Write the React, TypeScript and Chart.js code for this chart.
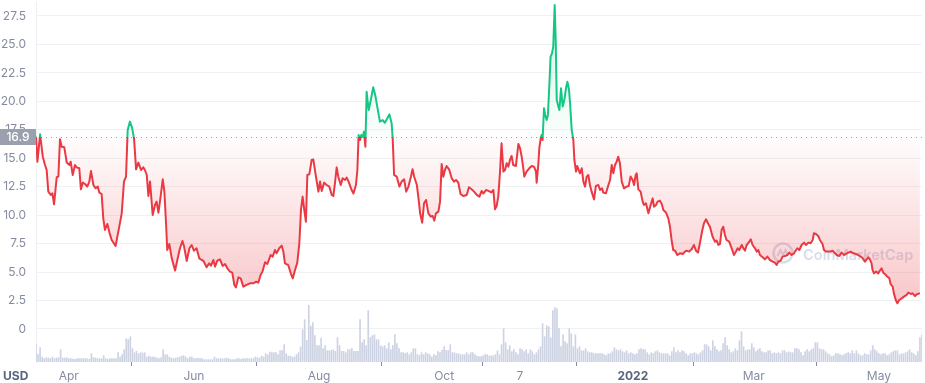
import React, { useEffect, useRef } from 'react';
import { Chart, registerables } from 'chart.js';

Chart.register(...registerables);

// Reference price (first value of the period) – line is green above, red below
const BASELINE = 16.9;

// Days since 2021-03-16
const priceDays = [
  0, 0.7, 2, 3.3, 4.4, 5.2, 6, 7.2, 8, 8.8,
  10.1, 10.9, 11.7, 12.5, 13.8, 15, 16.3, 16.9, 17.9, 19,
  19.8, 21.1, 21.9, 22.8, 23.9, 25, 26, 26.8, 28, 29.1,
  30.1, 30.9, 32, 32.8, 33.6, 34.8, 35.8, 36.9, 38.8, 40.6,
  41.8, 42.9, 43.9, 44.7, 45.8, 46.8, 47.8, 48.8, 49.9, 51.2,
  52.3, 53.1, 54, 54.8, 55.6, 56.9, 58, 58.8, 59.7, 60.8,
  61.8, 62.6, 63.4, 64, 65, 66.2, 67.8, 69.1, 70.2, 71.4,
  72.2, 73.5, 74.8, 75.9, 77, 78.3, 79.6, 80.8, 81.6, 83.2,
  84.4, 85.3, 86.5, 87.3, 88.4, 89.7, 91, 92.2, 93.3, 94.6,
  95.7, 96.7, 97.5, 98.7, 99.8, 101.1, 102.7, 104.3, 106, 107.3,
  108.4, 109.5, 110.4, 111.7, 112.8,
  114.4, 115.4, 116.5, 117.3, 118.6, 119.8, 120.6, 121.4, 123, 124.2,
  125.2, 126.3, 127.4, 128.4, 129.2, 130, 130.8, 131.6, 132.3, 133.3,
  134.4, 135.2, 136.5, 137.7, 138.5, 139.3, 140.5, 141.7, 143, 144.2,
  145, 145.8, 146.6, 147.4, 148.6, 149.5, 150.7, 151.5, 152.6, 153.9,
  154.8, 156, 156.7, 157.3, 158, 158.6, 159.3, 159.9, 160.6, 161.2,
  162.2, 163.1, 164.4, 165.4, 166.4, 167.7, 169, 170.1, 171.3, 172.3,
  173.4, 173.9, 174.6, 175.9, 177.2, 178.3, 179.5, 180.5, 181.6, 182.8,
  183.6, 184.4, 185.7, 186.5, 187.3, 188.3, 189.2, 190.2, 191.3, 192.5,
  193.4, 194.2, 195, 196.2, 197, 197.8, 198.6, 199.4, 200.2, 201.4,
  202.7, 203.8, 204.8, 205.9, 207, 208.3, 210, 211.1, 212.4, 213.6,
  214.9, 216.2, 217.3, 218.1, 219.4, 220.6,
  222, 223, 223.8, 224.6, 225.4, 226.2, 227, 227.9, 228.7, 229.5,
  230.3, 231.1, 231.9, 232.7, 234, 235.2, 236, 236.8, 237.6, 238.1,
  239.2, 240.5, 241.7, 242.8, 243.8, 244.1, 244.9, 245.4, 246.1, 246.5,
  247, 247.7, 248.3, 249, 249.6, 250.3, 250.9, 251.6, 252.2, 252.9,
  253.4, 253.9, 254.7, 255.2, 256, 256.8, 257.6, 258.4, 259.1, 259.9,
  260.4, 261.2, 262, 262.5, 263.3, 263.9, 264.6, 265.2, 266.1, 266.9,
  267.7, 268.5, 269.3, 270.1, 270.9, 272.1, 273, 274.2, 275, 276,
  276.6, 277.9, 279.1, 279.9, 280.7, 281.5, 282.3, 283.1, 283.9, 284.7,
  285.6, 286.7, 288, 289, 289.9, 290.9, 291.6, 292.4, 292.9, 293.7,
  294.8, 295.8, 296.4, 297.4, 298.6, 299.7, 300.7, 301.3, 302.3, 303.1,
  304.2, 305.1, 305.9, 307.2, 308.3, 309.1, 309.9, 310.7, 311.6, 312.7,
  314, 315.3, 316.4, 317.2, 318.5, 319.7, 320.8, 321.8, 322.8, 323.7,
  324.9, 325.7, 326.7, 327.8, 328.6,
  329.9, 331.1, 331.9, 332.7, 333.5, 334.3, 335.1, 335.9, 336.7, 338,
  339.2, 340.3, 341.3, 342.1, 342.9, 344.1, 344.9, 345.7, 346.5, 347.8,
  348.5, 349.4, 350.6, 351.4, 352.2, 353, 354.3, 355.4, 356.6, 357.9,
  359.2, 360.3, 361.1, 361.9, 363.1, 364, 365.2, 366.3, 367.3, 368.4,
  369.6, 370.6, 371.2, 372.2, 373.3, 374.5, 375.4, 376.6, 377.7, 378.7,
  379.3, 380.3, 381.4, 382.2, 383.5, 384.2, 385.2, 386.3, 387.1, 388.4,
  389.6, 390.4, 391.7, 392.8, 394, 394.9, 396.1, 397.2, 398.5, 399.8,
  400.9, 402.1, 403.1, 404.2, 405, 405.8, 406.6, 407.4, 407.9, 408.6,
  409.6, 410.7, 411.5, 412.3, 413.1, 413.9, 415.1, 416.1, 416.7, 417.7,
  418.3, 419.2, 420, 420.9, 422.1, 423.2, 424.5, 425.3, 426.5, 427.4,
  428.6, 429.7, 431,
];

// Price in USD
const prices = [
  16.9, 14.7, 17.1, 15.14, 14.41, 13.97, 12.07, 11.78, 11.92, 10.95,
  13.33, 13.39, 16.67, 16.02, 15.96, 14.62, 14.41, 14.7, 13.53, 14.41,
  14.2, 14.12, 12.27, 12.86, 12.74, 12.51, 12.95, 13.88, 12.65, 12.36,
  12.51, 11.98, 11.86, 9.72, 8.7, 9.23, 8.47, 7.82, 7.29, 8.99,
  10.16, 12.95, 13.39, 17.49, 18.22, 17.72, 16.75, 14.03, 14.62, 13.97,
  14.2, 13.97, 13.53, 11.69, 12.95, 10.02, 10.9, 11.19, 10.22, 11.69,
  13.15, 12.07, 9.29, 6.94, 7.47, 6.21, 5.13, 6.21, 7.09, 7.73,
  7.24, 5.98, 7.09, 7.38, 6.88, 7.09, 6.21, 6.06, 6.0, 5.42,
  5.77, 5.56, 6.06, 5.48, 6.0, 6.12, 5.54, 5.71, 5.33, 5.04,
  4.95, 3.87, 3.66, 4.54, 4.45, 3.72, 3.87, 4.01, 4.01, 4.16,
  4.07, 4.75, 5.04, 5.86, 5.71,
  6.5, 6.36, 6.94, 6.65, 7.09, 7.32, 6.8, 5.77, 5.62, 4.89,
  4.45, 5.18, 5.83, 7.53, 10.46, 11.63, 10.46, 9.43, 13.53, 13.6,
  14.85, 14.9, 13.38, 12.07, 12.95, 12.13, 12.86, 12.65, 12.51, 11.78,
  11.69, 12.86, 14.2, 13.38, 12.65, 13.24, 13.09, 13.3, 12.86, 12.21,
  11.9, 12.65, 13.97, 17.05, 16.6, 17.05, 16.9, 17.34, 16.02, 20.85,
  19.24, 19.98, 21.24, 20.56, 19.54, 18.22, 18.36, 18.12, 18.51, 18.86,
  18.07, 16.82, 13.53, 13.38, 12.51, 12.95, 13.15, 12.07, 12.51, 13.38,
  14.03, 13.38, 12.65, 11.48, 10.16, 9.34, 11.04, 11.34, 10.16, 9.87,
  9.93, 9.52, 10.16, 10.31, 11.19, 14.5, 13.38, 13.97, 14.32, 14.03,
  13.24, 12.95, 13.09, 12.86, 11.86, 11.69, 11.78, 12.45, 12.28, 12.07,
  11.78, 11.63, 12.13, 11.9, 12.21, 12.13,
  12.0, 12.21, 10.52, 10.81, 11.63, 13.68, 16.32, 13.83, 13.97, 14.56,
  14.26, 14.85, 15.2, 14.41, 14.32, 16.26, 15.88, 15.14, 14.12, 13.39,
  13.83, 14.12, 14.32, 14.26, 13.83, 12.86, 14.41, 15.88, 16.75, 17.05,
  16.61, 19.39, 18.81, 18.37, 18.81, 21.44, 23.93, 24.22, 24.81, 28.47,
  25.4, 20.12, 19.54, 19.24, 21.15, 19.54, 20.12, 21.15, 21.73, 21.0,
  19.83, 17.49, 16.61, 14.85, 13.83, 14.32, 13.97, 13.68, 14.12, 12.95,
  12.51, 13.39, 13.53, 12.65, 12.07, 11.39, 12.57, 12.65, 12.21, 12.36,
  11.98, 11.92, 12.65, 13.09, 14.41, 13.68, 14.41, 14.7, 15.14, 14.56,
  12.95, 12.36, 12.51, 12.57, 13.39, 13.09, 12.65, 13.53, 13.68, 12.27,
  12.07, 11.19, 10.9, 11.04, 10.16, 10.9, 11.48, 10.75, 10.9, 11.19,
  11.28, 10.98, 10.46, 10.22, 9.72, 8.99, 7.82, 6.94, 6.88, 6.5,
  6.65, 6.59, 6.8, 6.88, 6.8, 7.0, 7.38, 6.88, 6.71, 7.53,
  8.7, 9.29, 9.64, 9.23, 8.99,
  8.11, 7.67, 7.76, 7.38, 7.47, 8.7, 8.99, 8.26, 7.82, 7.67,
  7.09, 6.5, 6.8, 7.09, 6.94, 7.38, 7.09, 6.88, 7.38, 7.67,
  7.88, 7.38, 7.09, 6.8, 6.94, 6.5, 6.3, 6.12, 6.36, 6.06,
  5.92, 5.83, 5.62, 5.92, 6.0, 6.36, 6.41, 6.5, 6.71, 6.5,
  6.65, 6.94, 7.09, 6.94, 7.38, 7.59, 7.38, 7.59, 7.53, 7.82,
  8.41, 8.35, 8.17, 7.82, 7.47, 6.94, 6.8, 6.8, 6.8, 6.88,
  6.65, 6.5, 6.41, 6.71, 6.5, 6.59, 6.71, 6.8, 6.65, 6.59,
  6.5, 6.36, 6.21, 5.92, 6.12, 6.3, 6.12, 5.77, 5.18, 4.89,
  5.04, 4.89, 5.13, 5.33, 4.95, 4.83, 4.6, 4.45, 3.95, 3.72,
  3.13, 2.55, 2.26, 2.55, 2.69, 2.84, 2.99, 3.19, 3.08, 3.13,
  2.9, 3.08, 3.13,
];

// Daily trading volume (relative units), one bar per day from day 0
const volumes = [
  52, 22, 43, 15, 10, 13, 12, 10, 15, 10,
  12, 13, 37, 12, 12, 13, 10, 10, 9, 8,
  10, 10, 10, 10, 10, 10, 8, 25, 13, 12,
  10, 10, 10, 19, 10, 8, 10, 10, 10, 10,
  28, 15, 22, 37, 70, 67, 76, 40, 28, 32,
  25, 28, 27, 28, 15, 18, 15, 15, 15, 12,
  10, 13, 37, 22, 22, 15, 12, 10, 12, 13,
  15, 18, 19, 15, 10, 15, 15, 10, 10, 12,
  10, 10, 7, 7, 7, 7, 7, 15, 10, 10,
  10, 10, 10, 12, 10, 7, 7, 7, 10, 10,
  8, 10, 10, 10, 10, 10, 10, 15, 13, 12,
  18, 15, 25, 22, 30, 28, 28, 28, 22, 34,
  34, 52, 25, 18, 18, 15, 15, 22, 28, 45,
  97, 127, 65, 170, 108, 118, 79, 49, 49, 72,
  40, 49, 34, 34,
  35, 37, 32, 73, 49, 32, 32, 28, 37, 37,
  40, 32, 32, 32, 127, 58, 67, 49, 154, 73,
  79, 82, 67, 67, 49, 46, 49, 40, 58, 37,
  49, 82, 55, 40, 28, 28, 25, 28, 22, 28,
  40, 40, 22, 20, 28, 22, 28, 25, 22, 15,
  22, 19, 31, 28, 35, 46, 35, 35, 52, 28,
  28, 25, 25, 22, 22, 22, 28, 22, 28, 28,
  22, 18, 16, 16, 19, 22, 22, 18, 19, 19,
  22, 34, 22, 52, 100, 58, 37, 49, 31, 37,
  28, 22, 40, 37, 31, 37, 25, 37, 31, 22,
  28, 37, 46, 115, 76, 109, 106, 73, 154, 163,
  160, 100, 46, 82, 61, 55, 100, 85, 46, 82,
  40, 46, 34, 34, 40, 31, 28, 28, 25, 25,
  25, 25, 25, 22, 19, 25, 25, 31, 43, 37,
  34, 37, 31, 28, 34,
  25, 28, 25, 22, 25, 37, 40, 37, 37, 28,
  22, 28, 25, 31, 34, 28, 25, 25, 25, 25,
  19, 31, 43, 28, 34, 28, 34, 31, 25, 19,
  25, 25, 28, 25, 22, 28, 34, 52, 52, 46,
  34, 64, 46, 37, 31, 34, 55, 73, 49, 37,
  28, 31, 40, 34, 64, 91, 46, 34, 37, 37,
  55, 43, 31, 37, 40, 31, 28, 28, 34, 34,
  25, 28, 25, 28, 25, 34, 34, 28, 31, 28,
  28, 40, 40, 37, 28, 19, 31, 37, 31, 37,
  40, 58, 58, 40, 37, 37, 31, 25, 22, 16,
  19, 25, 25, 22, 19, 22, 25, 28, 25, 34,
  25, 34, 25, 19, 19, 25, 22, 22, 34, 49,
  37, 31, 25, 22, 25, 25, 19, 22, 28, 31,
  34, 34, 22, 25, 25, 28, 31, 37, 28, 25,
  19, 31, 73, 82,
];

// X axis tick positions (days since 2021-03-16) and labels
const xTickDays = [16, 77, 138, 199, 236, 291, 350, 411];
const xTickLabels = ['Apr', 'Jun', 'Aug', 'Oct', '7', '2022', 'Mar', 'May'];

// Y axis ticks
const yTickValues = [0, 2.5, 5, 7.5, 10, 12.5, 15, 17.5, 20, 22.5, 25, 27.5];
const yTickLabels = ['0', '2.5', '5.0', '7.5', '10.0', '12.5', '15.0', '17.5', '20.0', '22.5', '25.0', '27.5'];

const FONT = 'Inter, "Noto Sans", sans-serif';
const RED = '#ea3943';
const GREEN = '#16c784';
const TICK_COLOR = '#858ca2';
const DARK_TEXT = '#58667e';

export default function App() {
  const ref = useRef<HTMLCanvasElement>(null);

  useEffect(() => {
    document.body.style.margin = '0';
    const canvas = ref.current;
    if (!canvas) return;

    const priceData = priceDays.map((d, i) => ({ x: d, y: prices[i] }));
    const volumeData = volumes.map((v, i) => ({ x: i, y: v }));

    const overlay = {
      id: 'overlay',
      beforeDatasetsDraw(chart: any) {
        const { ctx, chartArea, scales } = chart;
        ctx.save();
        // watermark
        const col = 'rgba(168,180,208,0.45)';
        const cx = chartArea.right - 139;
        const cy = chartArea.top + 251;
        ctx.strokeStyle = col;
        ctx.lineWidth = 2.5;
        ctx.beginPath();
        ctx.arc(cx, cy, 9.5, 0, Math.PI * 2);
        ctx.stroke();
        ctx.lineWidth = 2;
        ctx.beginPath();
        ctx.moveTo(cx - 5.5, cy + 3);
        ctx.lineTo(cx - 2.5, cy - 3);
        ctx.lineTo(cx, cy + 2);
        ctx.lineTo(cx + 2.5, cy - 3);
        ctx.lineTo(cx + 5.5, cy + 3);
        ctx.stroke();
        ctx.fillStyle = col;
        ctx.font = `600 16px ${FONT}`;
        const wantW = 110;
        const m = ctx.measureText('CoinMarketCap').width;
        const size = Math.max(10, Math.min(18, (16 * wantW) / m));
        ctx.font = `600 ${size.toFixed(1)}px ${FONT}`;
        ctx.textBaseline = 'middle';
        ctx.textAlign = 'left';
        ctx.fillText('CoinMarketCap', cx + 20, cy + 3);
        // dotted baseline
        const yb = scales.y.getPixelForValue(BASELINE);
        ctx.strokeStyle = '#9aa0ad';
        ctx.lineWidth = 1;
        ctx.setLineDash([1, 4]);
        ctx.beginPath();
        ctx.moveTo(chartArea.left, Math.round(yb) + 0.5);
        ctx.lineTo(chartArea.right, Math.round(yb) + 0.5);
        ctx.stroke();
        ctx.restore();
      },
      afterDraw(chart: any) {
        const { ctx, scales } = chart;
        ctx.save();
        const yb = scales.y.getPixelForValue(BASELINE);
        const w = scales.y.right;
        ctx.fillStyle = '#9aa0ad';
        ctx.fillRect(0, Math.round(yb) - 8, w, 16);
        ctx.fillStyle = '#ffffff';
        ctx.font = `500 12px ${FONT}`;
        ctx.textAlign = 'center';
        ctx.textBaseline = 'middle';
        ctx.fillText(BASELINE.toFixed(1), w / 2, Math.round(yb) + 0.5);
        // currency label
        ctx.fillStyle = DARK_TEXT;
        ctx.font = `700 12px ${FONT}`;
        ctx.textAlign = 'left';
        ctx.fillText('USD', 3, scales.x.top + 14);
        ctx.restore();
      },
    };

    const chart = new Chart(canvas, {
      type: 'line',
      data: {
        datasets: [
          {
            type: 'line',
            data: priceData,
            order: 0,
            yAxisID: 'y',
            pointRadius: 0,
            borderWidth: 2,
            tension: 0,
            borderJoinStyle: 'round',
            borderColor: (c: any) => {
              const ch = c.chart;
              const area = ch.chartArea;
              if (!area) return RED;
              const yb = ch.scales.y.getPixelForValue(BASELINE);
              const t = Math.min(1, Math.max(0, (yb - area.top) / (area.bottom - area.top)));
              const g = ch.ctx.createLinearGradient(0, area.top, 0, area.bottom);
              g.addColorStop(0, GREEN);
              g.addColorStop(t, GREEN);
              g.addColorStop(t, RED);
              g.addColorStop(1, RED);
              return g;
            },
            fill: (c: any) => {
              const ch = c.chart;
              const area = ch.chartArea;
              if (!area) {
                return { target: { value: BASELINE }, above: 'rgba(22,199,132,0.08)', below: 'rgba(234,57,67,0.15)' };
              }
              const yb = ch.scales.y.getPixelForValue(BASELINE);
              const gr = ch.ctx.createLinearGradient(0, yb, 0, area.bottom);
              gr.addColorStop(0, 'rgba(234,57,67,0.01)');
              gr.addColorStop(1, 'rgba(234,57,67,0.38)');
              const gg = ch.ctx.createLinearGradient(0, yb, 0, area.top);
              gg.addColorStop(0, 'rgba(22,199,132,0.02)');
              gg.addColorStop(1, 'rgba(22,199,132,0.2)');
              return { target: { value: BASELINE }, above: gg, below: gr };
            },
          } as any,
          {
            type: 'bar',
            data: volumeData,
            order: 1,
            yAxisID: 'yVol',
            backgroundColor: '#cdd3e3',
            barThickness: 1,
          } as any,
        ],
      },
      options: {
        responsive: false,
        animation: false,
        events: [],
        layout: { padding: { left: 0, right: 3, top: 2, bottom: 0 } },
        plugins: { legend: { display: false }, tooltip: { enabled: false } },
        scales: {
          x: {
            type: 'linear',
            min: 0,
            max: 432,
            offset: false,
            border: { display: false },
            grid: {
              drawOnChartArea: false,
              drawTicks: true,
              tickLength: 4,
              tickColor: TICK_COLOR,
              tickWidth: 1,
            },
            afterBuildTicks: (scale: any) => {
              scale.ticks = xTickDays.map((v) => ({ value: v }));
            },
            afterFit: (scale: any) => {
              scale.height = 21;
              scale.paddingLeft = 0;
              scale.paddingRight = 0;
            },
            ticks: {
              autoSkip: false,
              maxRotation: 0,
              padding: 3,
              callback: (_v: any, i: number) => xTickLabels[i],
              color: (c: any) => (xTickLabels[c.index] === '2022' ? DARK_TEXT : TICK_COLOR),
              font: (c: any) => ({
                family: FONT,
                size: 12,
                weight: xTickLabels[c.index] === '2022' ? 'bold' : 'normal',
              }),
            },
          },
          y: {
            type: 'linear',
            position: 'left',
            min: -2.9,
            max: 28.73,
            border: { display: true, color: '#eceff3' },
            grid: { color: '#eff2f5', drawTicks: false },
            afterBuildTicks: (scale: any) => {
              scale.ticks = yTickValues.map((v) => ({ value: v }));
            },
            afterFit: (scale: any) => {
              scale.width = 36;
              scale.paddingTop = 0;
              scale.paddingBottom = 0;
            },
            ticks: {
              padding: 10,
              color: TICK_COLOR,
              font: { family: FONT, size: 12 },
              callback: (_v: any, i: number) => yTickLabels[i],
            },
          },
          yVol: {
            type: 'linear',
            display: false,
            min: 0,
            max: 1080,
          },
        },
      },
      plugins: [overlay],
    });

    return () => chart.destroy();
  }, []);

  return (
    <div style={{ position: 'absolute', left: 0, top: 0, width: 925, height: 383 }}>
      <canvas ref={ref} width={925} height={383} style={{ display: 'block' }} />
    </div>
  );
}
